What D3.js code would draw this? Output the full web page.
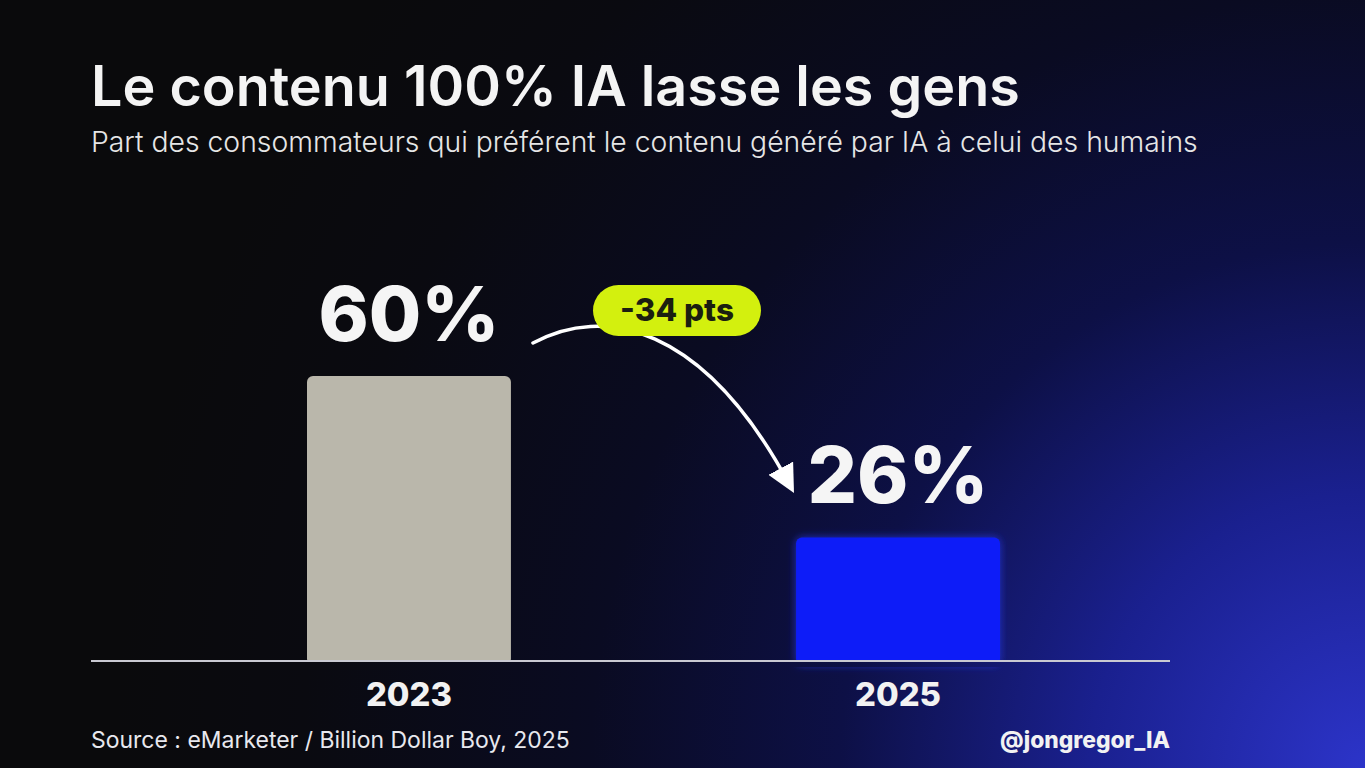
<!DOCTYPE html>
<html>
<head>
<meta charset="utf-8">
<script src="https://cdn.jsdelivr.net/npm/d3@7"></script>
<style>
  html, body { margin: 0; padding: 0; background: #0a0a0c; overflow: hidden; }
  text { font-family: Inter, "Open Sans", sans-serif; }
</style>
</head>
<body>
<div id="chart_box"></div>
<script>
// data
var years = ["2023", "2025"];
var shares = [60, 26];
var barColors = ["#bab7ab", "#0b1cf8"];
var deltaLabel = "-34 pts";

var title = "Le contenu 100% IA lasse les gens";
var subtitle = "Part des consommateurs qui préférent le contenu généré par IA à celui des humains";
var source = "Source : eMarketer / Billion Dollar Boy, 2025";
var handle = "@jongregor_IA";

// dimensions
var width = 1365, height = 768;
var baseY = 661, lineX0 = 91, lineX1 = 1170;

var svg = d3.select("#chart_box").append("svg")
    .attr("width", width)
    .attr("height", height);

var defs = svg.append("defs");

// background: dark top-left, blue glow bottom-right
var bg = defs.append("radialGradient")
    .attr("id", "bg")
    .attr("gradientUnits", "userSpaceOnUse")
    .attr("cx", 1365).attr("cy", 768).attr("r", 1250);
[[0, "#2c34c9"], [0.22, "#1a208f"], [0.42, "#0d1046"], [0.62, "#0a0b22"], [0.85, "#0a0a10"], [1, "#0a0a0c"]]
    .forEach(function (s) {
        bg.append("stop").attr("offset", s[0]).attr("stop-color", s[1]);
    });

var glow = defs.append("filter").attr("id", "glow")
    .attr("x", "-20%").attr("y", "-20%").attr("width", "140%").attr("height", "140%");
glow.append("feDropShadow").attr("dx", 0).attr("dy", 0)
    .attr("stdDeviation", 4).attr("flood-color", "#2a3cff").attr("flood-opacity", 0.7);

defs.append("marker")
    .attr("id", "head")
    .attr("viewBox", "0 0 10 10")
    .attr("refX", 7).attr("refY", 5)
    .attr("markerWidth", 28).attr("markerHeight", 28)
    .attr("markerUnits", "userSpaceOnUse")
    .attr("orient", "auto")
    .append("path")
    .attr("d", "M0,0 L10,5 L0,10 Z")
    .attr("fill", "#ffffff");

svg.append("rect")
    .attr("width", width).attr("height", height)
    .attr("fill", "url(#bg)");

// scales
var x = d3.scaleBand()
    .domain(years)
    .range([307, 1000])
    .paddingInner(0.583)
    .paddingOuter(0);

var y = d3.scaleLinear()
    .domain([0, 100])
    .range([baseY, baseY - 475]);

// shrink or grow a text so it takes the given width
function fitWidth(sel, w) {
    var node = sel.node();
    var fs = parseFloat(sel.attr("font-size"));
    var len = node.getComputedTextLength();
    if (len > 0) sel.attr("font-size", fs * w / len);
}

// titles
svg.append("text")
    .attr("x", 91).attr("y", 106)
    .attr("font-size", 52).attr("font-weight", 600)
    .attr("fill", "#f4f4f4")
    .text(title)
    .call(fitWidth, 929);

svg.append("text")
    .attr("x", 91).attr("y", 152)
    .attr("font-size", 26).attr("font-weight", 300)
    .attr("fill", "#e6e6e6")
    .text(subtitle)
    .call(fitWidth, 1107);

// bars
var data = years.map(function (d, i) { return { year: d, value: shares[i], color: barColors[i] }; });

svg.selectAll(".bar")
    .data(data)
    .enter().append("rect")
    .attr("class", "bar")
    .attr("x", function (d) { return x(d.year); })
    .attr("y", function (d) { return y(d.value); })
    .attr("width", x.bandwidth())
    .attr("height", function (d) { return y(0) - y(d.value) + 4; })
    .attr("rx", 6)
    .attr("fill", function (d) { return d.color; })
    .attr("filter", function (d, i) { return i === 1 ? "url(#glow)" : null; });

// baseline
svg.append("line")
    .attr("x1", lineX0).attr("x2", lineX1)
    .attr("y1", baseY).attr("y2", baseY)
    .attr("stroke", "#c9c9d2").attr("stroke-width", 2);

// cover bar bottoms below line
svg.append("rect")
    .attr("x", 280).attr("y", baseY + 1).attr("width", 760).attr("height", 5)
    .attr("fill", "url(#bg)");

// value labels
svg.selectAll(".val")
    .data(data)
    .enter().append("text")
    .attr("class", "val")
    .attr("x", function (d) { return x(d.year) + x.bandwidth() / 2; })
    .attr("y", function (d) { return y(d.value) - 35; })
    .attr("text-anchor", "middle")
    .attr("font-size", 76).attr("font-weight", 800)
    .attr("fill", "#f5f5f5")
    .text(function (d) { return d.value + "%"; })
    .each(function () { fitWidth(d3.select(this), 181); });

// year labels
svg.selectAll(".yr")
    .data(data)
    .enter().append("text")
    .attr("class", "yr")
    .attr("x", function (d) { return x(d.year) + x.bandwidth() / 2; })
    .attr("y", baseY + 45)
    .attr("text-anchor", "middle")
    .attr("font-size", 32).attr("font-weight", 800)
    .attr("fill", "#f2f2f2")
    .text(function (d) { return d.year; })
    .each(function () { fitWidth(d3.select(this), 86); });

// arrow from first to second value
var c0 = x(years[0]) + x.bandwidth() / 2, c1 = x(years[1]) + x.bandwidth() / 2;
var y0 = y(shares[0]), y1 = y(shares[1]);
var sx = c0 + 124, sy = y0 - 33;
var ex = c1 - 108, ey = y1 - 52;
svg.append("path")
    .attr("d", "M" + sx + "," + sy +
        "C" + (sx + 70) + "," + (sy - 38) +
        " " + (sx + 170) + "," + (sy - 20) +
        " " + ex + "," + ey)
    .attr("fill", "none")
    .attr("stroke", "#ffffff")
    .attr("stroke-width", 3.5)
    .attr("stroke-linecap", "round")
    .attr("marker-end", "url(#head)");

// delta pill
var px = (c0 + c1) / 2 + 23.5, py = 310.5;
svg.append("rect")
    .attr("x", px - 84).attr("y", py - 25.5)
    .attr("width", 168).attr("height", 51)
    .attr("rx", 25.5)
    .attr("fill", "#d3f00e");
svg.append("text")
    .attr("x", px).attr("y", py + 10)
    .attr("text-anchor", "middle")
    .attr("font-size", 28).attr("font-weight", 800)
    .attr("fill", "#1b1e10")
    .text(deltaLabel)
    .call(fitWidth, 114);

// footer
svg.append("text")
    .attr("x", 91).attr("y", 748)
    .attr("font-size", 22).attr("font-weight", 400)
    .attr("fill", "#e8e8ee")
    .text(source)
    .call(fitWidth, 479);

svg.append("text")
    .attr("x", 1170).attr("y", 748)
    .attr("text-anchor", "end")
    .attr("font-size", 22).attr("font-weight", 800)
    .attr("fill", "#f2f2f2")
    .text(handle)
    .call(fitWidth, 170);
</script>
</body>
</html>
